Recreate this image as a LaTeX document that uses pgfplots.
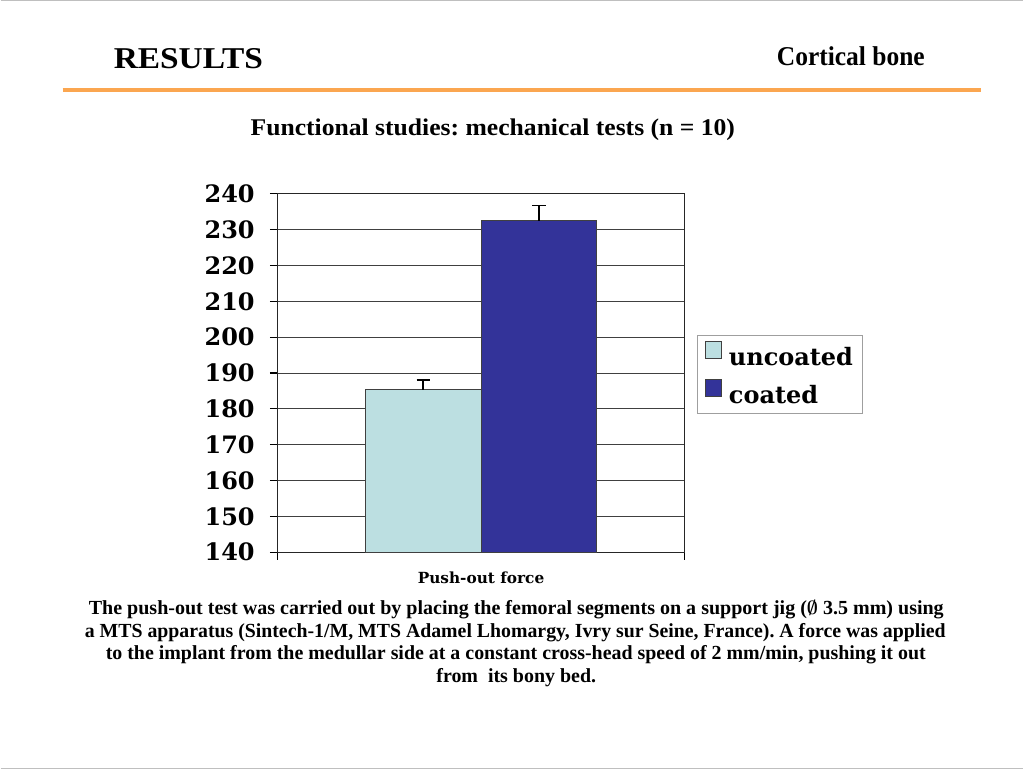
\documentclass[border=0pt]{standalone}
\usepackage{fontspec}
\setmainfont{Liberation Serif}
\newfontfamily\dvs{DejaVu Serif}
\usepackage{graphicx}
\usepackage{pgfplots}
\pgfplotsset{compat=1.18}
\definecolor{uncoat}{RGB}{188,223,225}
\definecolor{coat}{RGB}{51,51,153}
\definecolor{orng}{RGB}{251,166,80}
\pgfplotsset{sqlegend/.style={legend image code/.code={\draw[##1, line width=0.75pt, draw=black!75] (0pt,-1pt) rectangle (12.5pt,11.5pt);}}}
\newcommand\capline[4]{\node[anchor=base west, inner sep=0pt] at (#1,#2) {\resizebox{#3}{\height}{\fontsize{15}{18}\selectfont\bfseries #4}};}
\frenchspacing
\begin{document}
\frenchspacing
\begin{tikzpicture}[x=0.75pt,y=0.75pt]
\fill[white] (0,0) rectangle (1024,770);
\draw[gray!50, line width=1pt] (0,0.7) -- (1024,0.7);
\draw[gray!50, line width=1pt] (0,769.3) -- (1024,769.3);
% header
\node[anchor=base west, inner sep=0pt] at (113,701.7) {\resizebox{112pt}{\height}{\fontsize{22.7}{26}\selectfont\bfseries RESULTS}};
\node[anchor=base west, inner sep=0pt] at (777,704.3) {\resizebox{111pt}{\height}{\fontsize{20.4}{24}\selectfont\bfseries Cortical bone}};
\draw[orng, line width=3pt] (62,680) -- (982,680);
\node[anchor=base west, inner sep=0pt] at (250,634) {\resizebox{363.75pt}{\height}{\fontsize{18}{22}\selectfont\bfseries Functional studies: mechanical tests (n = 10)}};
% caption
\capline{88}{154.3}{642pt}{The push-out test was carried out by placing the femoral segments on a support jig ({\boldmath$\emptyset$} 3.5 mm) using}
\capline{84}{131.7}{646.5pt}{a MTS apparatus (Sintech-1/M, MTS Adamel Lhomargy, Ivry sur Seine, France). A force was applied}
\capline{105}{109.5}{615.75pt}{to the implant from the medullar side at a constant cross-head speed of 2 mm/min, pushing it out}
\capline{436}{87}{120pt}{from\ \ its bony bed.}
\begin{axis}[
  at={(207.75pt,162.75pt)}, anchor=south west,
  scale only axis, width=306pt, height=269.25pt,
  xmin=0, xmax=1, ymin=140, ymax=240,
  ytick={140,150,...,240}, xtick={0,1}, xticklabels={},
  ymajorgrids, grid style={black!75, line width=0.6pt},
  axis line style={black!85, line width=0.8pt},
  tick align=outside, ytick pos=left, xtick pos=bottom,
  major tick length=5.5pt, tick style={black, line width=0.8pt},
  /pgf/number format/assume math mode=true,
  yticklabel style={font=\dvs\bfseries\fontsize{18}{20}\selectfont, xshift=-8pt},
  ybar, bar width=0.284,
  xlabel={Push-out force},
  xlabel style={at={(axis description cs:0.5,0)}, anchor=base, yshift=-23.5pt, font=\dvs\bfseries\fontsize{11.5}{13}\selectfont},
  legend style={at={(axis description cs:1.0294,0.607)}, anchor=north west, draw=gray!75, line width=0.8pt,
    font=\dvs\bfseries\fontsize{18}{20}\selectfont, inner xsep=5.5pt, inner ysep=4.5pt, row sep=7.2pt,
    /tikz/every odd column/.append style={column sep=3pt},
    /tikz/every even column/.append style={column sep=-1.5pt}, cells={anchor=west}},
]
\addplot[sqlegend, bar shift=-0.142, fill=uncoat, draw=black!75, line width=0.75pt,
  error bars/.cd, y dir=plus, y explicit,
  error bar style={line width=1.3pt, black},
  error mark options={rotate=90, line width=1.3pt, black, mark size=5pt}]
  coordinates {(0.5,185.3) +- (0,2.8)};
\addlegendentry{uncoated}
\addplot[sqlegend, bar shift=0.142, fill=coat, draw=black!75, line width=0.75pt,
  error bars/.cd, y dir=plus, y explicit,
  error bar style={line width=1.3pt, black},
  error mark options={rotate=90, line width=1.3pt, black, mark size=5pt}]
  coordinates {(0.5,232.4) +- (0,4.3)};
\addlegendentry{coated}
\end{axis}
\end{tikzpicture}
\end{document}
